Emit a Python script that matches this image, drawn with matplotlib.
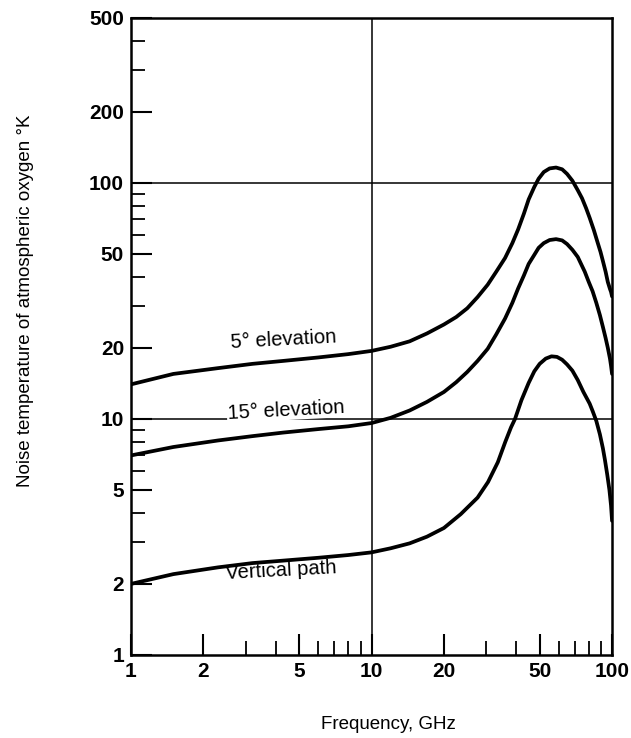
import numpy as np
import matplotlib
matplotlib.use("Agg")
import matplotlib.pyplot as plt
from matplotlib.ticker import FixedLocator, NullFormatter

plt.rcParams['font.family'] = ['Liberation Sans', 'DejaVu Sans']

# curves (frequency GHz, noise temperature K)
freq_5 = [1, 1.5, 2.3, 3.2, 4.3, 6, 8, 10, 12, 14.4, 17, 20, 22.5, 25, 27.6, 30.4, 33, 35.9, 38.5, 40.7, 43, 45, 47.5,
          49.5, 52, 55, 58.5, 62, 65, 68.4, 72, 75, 78, 80.7, 84, 87, 89.5, 91.6, 94, 96, 98, 99, 100]
temp_5 = [14, 15.5, 16.4, 17.1, 17.6, 18.2, 18.8, 19.4, 20.2, 21.3, 23.0, 25.1, 27.0, 29.4, 32.8, 37.0, 42.0, 48, 55.5, 63.5,
          74, 85, 96, 104, 111, 115, 116, 114, 109, 102, 93, 86, 78, 71, 63, 56, 51, 46.6, 42, 38, 35.5, 34.5, 33]

freq_15 = [1, 1.5, 2.3, 3.2, 4.3, 6, 8, 10, 12, 14.4, 17, 20, 22.5, 25, 27.6, 30.4, 33, 35.9, 38.5, 40.7, 43, 45, 47.5,
           49.5, 52, 55, 58.5, 62, 65, 68.4, 72, 77, 80, 83, 86, 89, 91.6, 94, 96, 98, 99, 100]
temp_15 = [7, 7.6, 8.1, 8.45, 8.75, 9.05, 9.3, 9.6, 10.1, 10.85, 11.8, 13.0, 14.3, 15.8, 17.6, 19.8, 22.8, 26.6, 31, 35.7,
           40.5, 45.3, 49.5, 53, 55.5, 57.2, 57.7, 57, 55, 52, 48.5, 42, 38, 34.7, 31, 27.5, 24.5, 22, 20, 18, 16.8, 15.5]

freq_v = [1, 1.5, 2.3, 3.2, 4.3, 6, 8, 10, 12, 14.4, 17, 20, 23.5, 27.6, 30.5, 33.5, 36, 38, 39.5, 42, 45, 47.5, 50, 53,
          56, 59, 62, 65, 68.4, 72, 76, 80.7, 83, 86, 89, 91.6, 93.4, 95.5, 97.5, 99, 100]
temp_v = [2.0, 2.2, 2.35, 2.45, 2.51, 2.58, 2.65, 2.72, 2.83, 2.97, 3.17, 3.45, 3.95, 4.64, 5.4, 6.55, 8.0, 9.2, 10,
          12.0, 14.2, 15.9, 17.1, 18.0, 18.4, 18.3, 17.8, 17.0, 16.0, 14.6, 13.0, 11.6, 10.8, 9.8, 8.6, 7.5, 6.7, 5.8,
          5.0, 4.3, 3.7]

x_major = [1, 2, 5, 10, 20, 50, 100]
x_minor = [3, 4, 6, 7, 8, 9, 30, 40, 60, 70, 80, 90]
y_major = [1, 2, 5, 10, 20, 50, 100, 200, 500]
y_minor = [3, 4, 6, 7, 8, 9, 30, 40, 60, 70, 80, 90, 300, 400]

fig = plt.figure(figsize=(6.31, 7.38), dpi=100)
ax = fig.add_axes([0.2076, 0.1125, 0.7624, 0.8635])
ax.set_xscale('log')
ax.set_yscale('log')
ax.set_xlim(1, 100)
ax.set_ylim(1, 500)

# reference lines
ax.axvline(10, color='black', lw=1.1, zorder=1)
ax.axhline(100, color='black', lw=1.1, zorder=1)
ax.axhline(10, color='black', lw=1.1, zorder=1)

for fx, ty in [(freq_5, temp_5), (freq_15, temp_15), (freq_v, temp_v)]:
    ax.plot(fx, ty, color='black', lw=2.7, solid_joinstyle='round', solid_capstyle='round', zorder=3)

ax.text(4.3, 21.6, '5° elevation', ha='center', va='center', fontsize=14.5, rotation=3)
ax.text(4.4, 10.9, '15° elevation', ha='center', va='center', fontsize=14.5, rotation=3,
        bbox=dict(facecolor='white', edgecolor='none', pad=0.5), zorder=2)
ax.text(4.2, 2.27, 'Vertical path', ha='center', va='center', fontsize=14.5, rotation=3)

ax.xaxis.set_major_locator(FixedLocator(x_major))
ax.xaxis.set_minor_locator(FixedLocator(x_minor))
ax.yaxis.set_major_locator(FixedLocator(y_major))
ax.yaxis.set_minor_locator(FixedLocator(y_minor))
ax.set_xticklabels([str(v) for v in x_major], fontweight='bold')
ax.set_yticklabels([str(v) for v in y_major], fontweight='bold')
ax.xaxis.set_minor_formatter(NullFormatter())
ax.yaxis.set_minor_formatter(NullFormatter())

ax.tick_params(which='major', direction='in', length=15, width=1.5, labelsize=15, pad=5)
ax.tick_params(which='minor', direction='in', length=10, width=1.3)
ax.tick_params(axis='y', which='major', pad=5)

for s in ax.spines.values():
    s.set_linewidth(1.8)

ax.set_xlabel('Frequency, GHz', fontsize=13.5)
ax.xaxis.set_label_coords(0.534, -0.095)
fig.text(0.04, 0.592, 'Noise temperature of atmospheric oxygen °K', rotation=90,
         ha='center', va='center', fontsize=13.5)

fig.savefig('out.png', dpi=100)
